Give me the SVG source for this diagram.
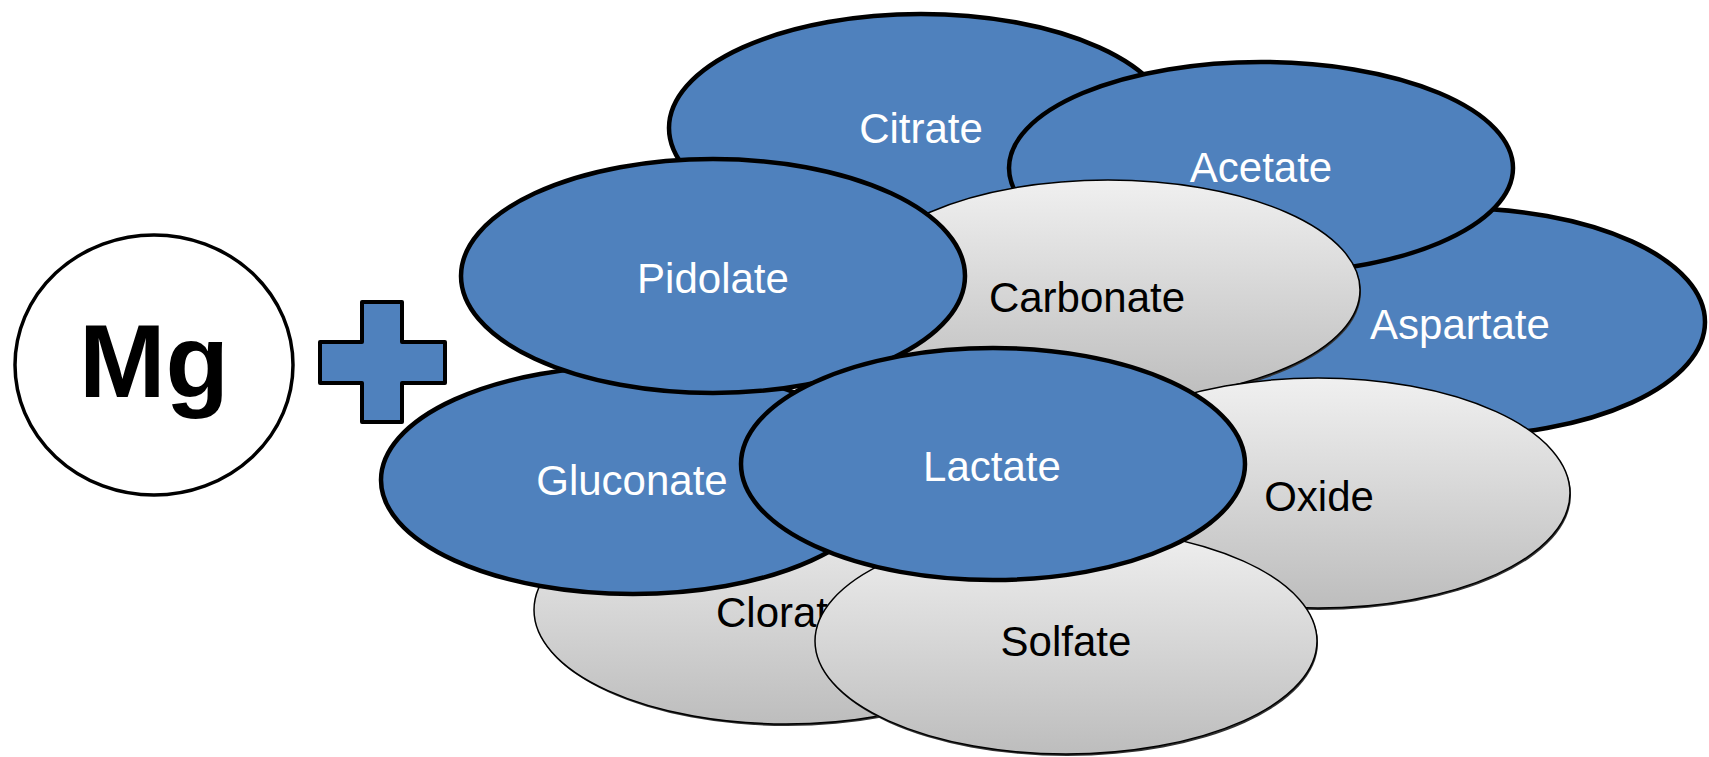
<svg xmlns="http://www.w3.org/2000/svg" width="1709" height="757" viewBox="0 0 1709 757">
<defs>
<linearGradient id="gray" x1="0" y1="0" x2="0" y2="1">
<stop offset="0" stop-color="#F0F0F0"/>
<stop offset="1" stop-color="#BDBDBD"/>
</linearGradient>
<style>
.blue{fill:#4F81BD;stroke:#000;stroke-width:4.5}
.grey{fill:url(#gray);stroke:#000;stroke-width:1.5}
.shadow{fill:#333;stroke:none}
.wt{font-family:"Liberation Sans",Arial,sans-serif;font-size:42px;fill:#fff;text-anchor:middle}
.bt{font-family:"Liberation Sans",Arial,sans-serif;font-size:42px;fill:#000;text-anchor:middle}
</style>
</defs>
<rect width="1709" height="757" fill="#fff"/>
<g id="mg">
<ellipse cx="154" cy="365" rx="139" ry="130" fill="#fff" stroke="#000" stroke-width="3.5"/>
<text x="154" y="397" style="font-family:'Liberation Sans',Arial,sans-serif;font-size:104px;font-weight:bold;text-anchor:middle">Mg</text>
</g>
<g id="plus">
<path d="M362,302 H402 V342 H445 V383 H402 V422 H362 V383 H320 V342 H362 Z" fill="#4F81BD" stroke="#000" stroke-width="4" stroke-linejoin="round"/>
</g>
<g id="citrate">
<ellipse class="blue" cx="921" cy="128" rx="252" ry="114"/>
<text class="wt" x="921" y="143">Citrate</text>
</g>
<g id="aspartate">
<ellipse class="blue" cx="1455" cy="322" rx="250" ry="114"/>
<text class="wt" x="1460" y="339">Aspartate</text>
</g>
<g id="acetate">
<ellipse class="blue" cx="1261" cy="168" rx="252" ry="106"/>
<text class="wt" x="1261" y="182">Acetate</text>
</g>
<g id="carbonate">
<ellipse class="shadow" cx="1109" cy="292" rx="252" ry="110"/>
<ellipse class="grey" cx="1108" cy="290" rx="252" ry="110"/>
<text class="bt" x="1087" y="312">Carbonate</text>
</g>
<g id="oxide">
<ellipse class="shadow" cx="1319" cy="495" rx="252" ry="115"/>
<ellipse class="grey" cx="1318" cy="493" rx="252" ry="115"/>
<text class="bt" x="1319" y="511">Oxide</text>
</g>
<g id="clorato">
<ellipse class="shadow" cx="787" cy="612" rx="252" ry="114"/>
<ellipse class="grey" cx="786" cy="610" rx="252" ry="114"/>
<text class="bt" x="716" y="627" style="text-anchor:start">Clorato</text>
</g>
<g id="solfate">
<ellipse class="shadow" cx="1067" cy="643" rx="251" ry="113"/>
<ellipse class="grey" cx="1066" cy="641" rx="251" ry="113"/>
<text class="bt" x="1066" y="656">Solfate</text>
</g>
<g id="gluconate">
<ellipse class="blue" cx="633" cy="480" rx="252" ry="114"/>
<text class="wt" x="632" y="495">Gluconate</text>
</g>
<g id="pidolate">
<ellipse class="blue" cx="713" cy="276" rx="252" ry="117"/>
<text class="wt" x="713" y="293">Pidolate</text>
</g>
<g id="lactate">
<ellipse class="blue" cx="993" cy="464" rx="252" ry="116"/>
<text class="wt" x="992" y="481">Lactate</text>
</g>
<g id="connectors"/>
</svg>
